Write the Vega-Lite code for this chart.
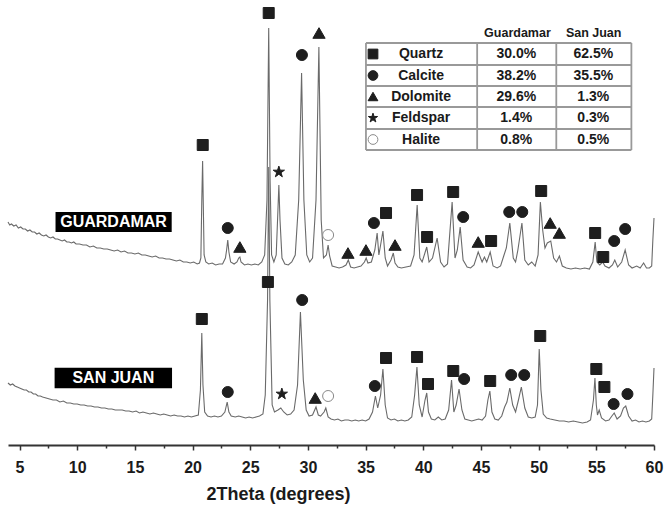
{
"$schema": "https://vega.github.io/schema/vega-lite/v6.json",
"width": 646, "height": 440,
"autosize": {"type": "none"},
"padding": {"left": 8, "top": 5, "right": 13, "bottom": 60},
"background": "white",
"config": {"view": {"stroke": null}, "font": "Liberation Sans"},
"datasets": {
"trace": [
{"s":"G","x":4.0,"c":223},{"s":"G","x":4.15,"c":220},{"s":"G","x":4.3,"c":221},{"s":"G","x":4.5,"c":219},{"s":"G","x":4.7,"c":220},{"s":"G","x":4.9,"c":217},{"s":"G","x":5.1,"c":218},{"s":"G","x":5.3,"c":216},{"s":"G","x":5.5,"c":216},{"s":"G","x":5.7,"c":214},{"s":"G","x":5.9,"c":215},{"s":"G","x":6.1,"c":213},{"s":"G","x":6.3,"c":213},{"s":"G","x":6.5,"c":211},{"s":"G","x":6.7,"c":212},{"s":"G","x":6.9,"c":210},{"s":"G","x":7.1,"c":209},{"s":"G","x":7.3,"c":210},{"s":"G","x":7.5,"c":208},{"s":"G","x":7.7,"c":207},{"s":"G","x":7.9,"c":208},{"s":"G","x":8.1,"c":206},{"s":"G","x":8.3,"c":206},{"s":"G","x":8.5,"c":205},{"s":"G","x":8.7,"c":204},{"s":"G","x":8.9,"c":205},{"s":"G","x":9.1,"c":203},{"s":"G","x":9.3,"c":203},{"s":"G","x":9.5,"c":202},{"s":"G","x":9.7,"c":203},{"s":"G","x":9.9,"c":201},{"s":"G","x":10.2,"c":201},{"s":"G","x":10.5,"c":200},{"s":"G","x":10.8,"c":200},{"s":"G","x":11.1,"c":198},{"s":"G","x":11.4,"c":199},{"s":"G","x":11.7,"c":197},{"s":"G","x":12.0,"c":197},{"s":"G","x":12.3,"c":196},{"s":"G","x":12.6,"c":196},{"s":"G","x":12.9,"c":195},{"s":"G","x":13.2,"c":194},{"s":"G","x":13.5,"c":195},{"s":"G","x":13.8,"c":193},{"s":"G","x":14.1,"c":194},{"s":"G","x":14.4,"c":192},{"s":"G","x":14.7,"c":192},{"s":"G","x":15.0,"c":191},{"s":"G","x":15.3,"c":192},{"s":"G","x":15.6,"c":190},{"s":"G","x":15.9,"c":190},{"s":"G","x":16.2,"c":189},{"s":"G","x":16.5,"c":188},{"s":"G","x":16.8,"c":189},{"s":"G","x":17.1,"c":187},{"s":"G","x":17.4,"c":187},{"s":"G","x":17.7,"c":186},{"s":"G","x":18.0,"c":186},{"s":"G","x":18.3,"c":185},{"s":"G","x":18.6,"c":184},{"s":"G","x":18.9,"c":185},{"s":"G","x":19.2,"c":183},{"s":"G","x":19.5,"c":183},{"s":"G","x":19.8,"c":182},{"s":"G","x":20.1,"c":183},{"s":"G","x":20.4,"c":181},{"s":"G","x":20.6,"c":182},
{"s":"G","x":20.72,"c":187},{"s":"G","x":20.8,"c":245},{"s":"G","x":20.87,"c":284},{"s":"G","x":20.93,"c":240},{"s":"G","x":21.0,"c":190},{"s":"G","x":21.15,"c":183},{"s":"G","x":21.4,"c":181},{"s":"G","x":21.7,"c":182},{"s":"G","x":22.0,"c":180},{"s":"G","x":22.3,"c":181},{"s":"G","x":22.6,"c":181},{"s":"G","x":22.85,"c":187},{"s":"G","x":22.95,"c":195},{"s":"G","x":23.05,"c":205},{"s":"G","x":23.15,"c":193},{"s":"G","x":23.3,"c":183},{"s":"G","x":23.6,"c":181},{"s":"G","x":23.85,"c":183},{"s":"G","x":24.0,"c":187},{"s":"G","x":24.1,"c":188},{"s":"G","x":24.2,"c":183},{"s":"G","x":24.5,"c":180},{"s":"G","x":24.8,"c":181},{"s":"G","x":25.1,"c":180},{"s":"G","x":25.4,"c":181},{"s":"G","x":25.7,"c":180},{"s":"G","x":26.0,"c":183},{"s":"G","x":26.25,"c":190},{"s":"G","x":26.45,"c":245},{"s":"G","x":26.6,"c":417},{"s":"G","x":26.72,"c":265},{"s":"G","x":26.85,"c":190},{"s":"G","x":27.05,"c":183},{"s":"G","x":27.25,"c":190},{"s":"G","x":27.4,"c":235},{"s":"G","x":27.48,"c":260},{"s":"G","x":27.58,"c":225},{"s":"G","x":27.75,"c":187},{"s":"G","x":28.0,"c":181},{"s":"G","x":28.3,"c":180},{"s":"G","x":28.6,"c":183},{"s":"G","x":28.9,"c":190},{"s":"G","x":29.2,"c":245},{"s":"G","x":29.45,"c":372},{"s":"G","x":29.65,"c":245},{"s":"G","x":29.9,"c":190},{"s":"G","x":30.15,"c":183},{"s":"G","x":30.4,"c":187},{"s":"G","x":30.7,"c":245},{"s":"G","x":30.95,"c":398},{"s":"G","x":31.15,"c":225},{"s":"G","x":31.35,"c":187},{"s":"G","x":31.6,"c":190},{"s":"G","x":31.75,"c":200},{"s":"G","x":31.88,"c":189},{"s":"G","x":32.1,"c":179},{"s":"G","x":32.4,"c":178},{"s":"G","x":32.7,"c":177},{"s":"G","x":33.0,"c":178},{"s":"G","x":33.3,"c":180},{"s":"G","x":33.5,"c":185},{"s":"G","x":33.7,"c":178},{"s":"G","x":34.0,"c":177},{"s":"G","x":34.3,"c":178},{"s":"G","x":34.6,"c":179},{"s":"G","x":34.9,"c":183},{"s":"G","x":35.05,"c":187},{"s":"G","x":35.2,"c":182},{"s":"G","x":35.5,"c":183},{"s":"G","x":35.8,"c":195},{"s":"G","x":36.0,"c":212},{"s":"G","x":36.15,"c":190},{"s":"G","x":36.3,"c":200},{"s":"G","x":36.5,"c":214},{"s":"G","x":36.7,"c":187},{"s":"G","x":36.9,"c":179},{"s":"G","x":37.2,"c":185},{"s":"G","x":37.4,"c":192},{"s":"G","x":37.55,"c":182},{"s":"G","x":37.8,"c":178},{"s":"G","x":38.1,"c":177},{"s":"G","x":38.5,"c":178},{"s":"G","x":38.9,"c":179},{"s":"G","x":39.2,"c":190},{"s":"G","x":39.47,"c":240},{"s":"G","x":39.7,"c":187},{"s":"G","x":39.9,"c":183},{"s":"G","x":40.3,"c":198},{"s":"G","x":40.5,"c":183},{"s":"G","x":40.8,"c":187},{"s":"G","x":41.2,"c":207},{"s":"G","x":41.5,"c":183},{"s":"G","x":41.8,"c":178},{"s":"G","x":42.1,"c":181},{"s":"G","x":42.5,"c":243},{"s":"G","x":42.75,"c":187},{"s":"G","x":42.95,"c":195},{"s":"G","x":43.2,"c":218},{"s":"G","x":43.45,"c":185},{"s":"G","x":43.8,"c":178},{"s":"G","x":44.1,"c":177},{"s":"G","x":44.4,"c":180},{"s":"G","x":44.76,"c":193},{"s":"G","x":45.1,"c":183},{"s":"G","x":45.3,"c":188},{"s":"G","x":45.5,"c":183},{"s":"G","x":45.8,"c":193},{"s":"G","x":46.05,"c":179},{"s":"G","x":46.4,"c":177},{"s":"G","x":46.7,"c":179},{"s":"G","x":47.0,"c":190},{"s":"G","x":47.2,"c":197},{"s":"G","x":47.5,"c":222},{"s":"G","x":47.8,"c":187},{"s":"G","x":48.0,"c":183},{"s":"G","x":48.2,"c":195},{"s":"G","x":48.55,"c":222},{"s":"G","x":48.8,"c":185},{"s":"G","x":49.1,"c":180},{"s":"G","x":49.4,"c":183},{"s":"G","x":49.7,"c":179},{"s":"G","x":49.95,"c":190},{"s":"G","x":50.15,"c":243},{"s":"G","x":50.35,"c":215},{"s":"G","x":50.55,"c":197},{"s":"G","x":50.75,"c":202},{"s":"G","x":51.05,"c":204},{"s":"G","x":51.3,"c":187},{"s":"G","x":51.55,"c":183},{"s":"G","x":51.8,"c":189},{"s":"G","x":52.05,"c":179},{"s":"G","x":52.4,"c":177},{"s":"G","x":52.8,"c":176},{"s":"G","x":53.2,"c":177},{"s":"G","x":53.6,"c":176},{"s":"G","x":54.0,"c":177},{"s":"G","x":54.4,"c":176},{"s":"G","x":54.7,"c":183},{"s":"G","x":54.9,"c":203},{"s":"G","x":55.05,"c":183},{"s":"G","x":55.3,"c":180},{"s":"G","x":55.55,"c":183},{"s":"G","x":55.75,"c":179},{"s":"G","x":56.1,"c":177},{"s":"G","x":56.4,"c":180},{"s":"G","x":56.6,"c":185},{"s":"G","x":56.85,"c":178},{"s":"G","x":57.2,"c":183},{"s":"G","x":57.5,"c":195},{"s":"G","x":57.8,"c":180},{"s":"G","x":58.1,"c":177},{"s":"G","x":58.5,"c":179},{"s":"G","x":58.8,"c":177},{"s":"G","x":59.1,"c":182},{"s":"G","x":59.35,"c":177},{"s":"G","x":59.6,"c":177},{"s":"G","x":59.8,"c":179},{"s":"G","x":59.9,"c":205},{"s":"G","x":60.0,"c":227},
{"s":"S","x":4.0,"c":62},{"s":"S","x":4.2,"c":60},{"s":"S","x":4.4,"c":61},{"s":"S","x":4.6,"c":59},{"s":"S","x":4.8,"c":58},{"s":"S","x":5.0,"c":57},{"s":"S","x":5.2,"c":56},{"s":"S","x":5.4,"c":55},{"s":"S","x":5.6,"c":55},{"s":"S","x":5.8,"c":53},{"s":"S","x":6.0,"c":53},{"s":"S","x":6.2,"c":51},{"s":"S","x":6.4,"c":51},{"s":"S","x":6.6,"c":49},{"s":"S","x":6.8,"c":49},{"s":"S","x":7.0,"c":48},{"s":"S","x":7.3,"c":47},{"s":"S","x":7.6,"c":46},{"s":"S","x":7.9,"c":45},{"s":"S","x":8.2,"c":45},{"s":"S","x":8.5,"c":43},{"s":"S","x":8.8,"c":44},{"s":"S","x":9.1,"c":42},{"s":"S","x":9.4,"c":42},{"s":"S","x":9.7,"c":41},{"s":"S","x":10.0,"c":41},{"s":"S","x":10.3,"c":40},{"s":"S","x":10.6,"c":40},{"s":"S","x":10.9,"c":39},{"s":"S","x":11.2,"c":39},{"s":"S","x":11.5,"c":38},{"s":"S","x":11.8,"c":38},{"s":"S","x":12.1,"c":37},{"s":"S","x":12.4,"c":37},{"s":"S","x":12.7,"c":36},{"s":"S","x":13.0,"c":36},{"s":"S","x":13.3,"c":35},{"s":"S","x":13.6,"c":35},{"s":"S","x":13.9,"c":35},{"s":"S","x":14.2,"c":34},{"s":"S","x":14.5,"c":34},{"s":"S","x":14.8,"c":33},{"s":"S","x":15.1,"c":34},{"s":"S","x":15.4,"c":32},{"s":"S","x":15.7,"c":33},{"s":"S","x":16.0,"c":32},{"s":"S","x":16.3,"c":31},{"s":"S","x":16.6,"c":32},{"s":"S","x":16.9,"c":31},{"s":"S","x":17.2,"c":30},{"s":"S","x":17.5,"c":31},{"s":"S","x":17.8,"c":30},{"s":"S","x":18.1,"c":29},{"s":"S","x":18.4,"c":30},{"s":"S","x":18.7,"c":29},{"s":"S","x":19.0,"c":29},{"s":"S","x":19.3,"c":28},{"s":"S","x":19.6,"c":29},{"s":"S","x":19.9,"c":28},{"s":"S","x":20.2,"c":29},{"s":"S","x":20.5,"c":30},
{"s":"S","x":20.68,"c":55},{"s":"S","x":20.8,"c":112},{"s":"S","x":20.9,"c":60},{"s":"S","x":21.05,"c":33},{"s":"S","x":21.3,"c":29},{"s":"S","x":21.6,"c":28},{"s":"S","x":21.9,"c":29},{"s":"S","x":22.2,"c":28},{"s":"S","x":22.5,"c":29},{"s":"S","x":22.8,"c":33},{"s":"S","x":23.0,"c":43},{"s":"S","x":23.15,"c":33},{"s":"S","x":23.35,"c":29},{"s":"S","x":23.7,"c":28},{"s":"S","x":24.0,"c":29},{"s":"S","x":24.3,"c":28},{"s":"S","x":24.6,"c":27},{"s":"S","x":24.9,"c":28},{"s":"S","x":25.2,"c":27},{"s":"S","x":25.5,"c":28},{"s":"S","x":25.8,"c":29},{"s":"S","x":26.1,"c":31},{"s":"S","x":26.3,"c":50},{"s":"S","x":26.5,"c":145},{"s":"S","x":26.6,"c":278},{"s":"S","x":26.7,"c":145},{"s":"S","x":26.9,"c":40},{"s":"S","x":27.1,"c":33},{"s":"S","x":27.4,"c":35},{"s":"S","x":27.65,"c":37},{"s":"S","x":27.9,"c":33},{"s":"S","x":28.2,"c":30},{"s":"S","x":28.5,"c":31},{"s":"S","x":28.8,"c":35},{"s":"S","x":29.1,"c":60},{"s":"S","x":29.35,"c":133},{"s":"S","x":29.6,"c":65},{"s":"S","x":29.85,"c":35},{"s":"S","x":30.1,"c":29},{"s":"S","x":30.4,"c":30},{"s":"S","x":30.7,"c":38},{"s":"S","x":30.9,"c":30},{"s":"S","x":31.1,"c":29},{"s":"S","x":31.4,"c":33},{"s":"S","x":31.55,"c":37},{"s":"S","x":31.75,"c":28},{"s":"S","x":32.0,"c":26},{"s":"S","x":32.3,"c":25},{"s":"S","x":32.6,"c":26},{"s":"S","x":32.9,"c":24},{"s":"S","x":33.2,"c":25},{"s":"S","x":33.5,"c":25},{"s":"S","x":33.8,"c":24},{"s":"S","x":34.1,"c":25},{"s":"S","x":34.4,"c":24},{"s":"S","x":34.7,"c":25},{"s":"S","x":35.0,"c":24},{"s":"S","x":35.3,"c":26},{"s":"S","x":35.6,"c":33},{"s":"S","x":35.85,"c":49},{"s":"S","x":36.05,"c":37},{"s":"S","x":36.3,"c":50},{"s":"S","x":36.5,"c":76},{"s":"S","x":36.7,"c":40},{"s":"S","x":36.9,"c":27},{"s":"S","x":37.2,"c":25},{"s":"S","x":37.5,"c":26},{"s":"S","x":37.8,"c":24},{"s":"S","x":38.1,"c":25},{"s":"S","x":38.4,"c":24},{"s":"S","x":38.7,"c":25},{"s":"S","x":39.0,"c":28},{"s":"S","x":39.25,"c":50},{"s":"S","x":39.45,"c":78},{"s":"S","x":39.65,"c":40},{"s":"S","x":39.9,"c":28},{"s":"S","x":40.15,"c":45},{"s":"S","x":40.3,"c":52},{"s":"S","x":40.45,"c":33},{"s":"S","x":40.7,"c":26},{"s":"S","x":41.0,"c":25},{"s":"S","x":41.3,"c":28},{"s":"S","x":41.6,"c":25},{"s":"S","x":41.9,"c":26},{"s":"S","x":42.2,"c":35},{"s":"S","x":42.45,"c":65},{"s":"S","x":42.65,"c":33},{"s":"S","x":42.85,"c":40},{"s":"S","x":43.1,"c":56},{"s":"S","x":43.35,"c":35},{"s":"S","x":43.6,"c":26},{"s":"S","x":43.9,"c":25},{"s":"S","x":44.2,"c":24},{"s":"S","x":44.5,"c":25},{"s":"S","x":44.8,"c":26},{"s":"S","x":45.1,"c":25},{"s":"S","x":45.4,"c":29},{"s":"S","x":45.6,"c":45},{"s":"S","x":45.77,"c":54},{"s":"S","x":45.95,"c":33},{"s":"S","x":46.2,"c":26},{"s":"S","x":46.5,"c":25},{"s":"S","x":46.8,"c":29},{"s":"S","x":47.05,"c":38},{"s":"S","x":47.25,"c":43},{"s":"S","x":47.5,"c":57},{"s":"S","x":47.75,"c":40},{"s":"S","x":48.0,"c":33},{"s":"S","x":48.25,"c":45},{"s":"S","x":48.5,"c":58},{"s":"S","x":48.8,"c":37},{"s":"S","x":49.1,"c":28},{"s":"S","x":49.4,"c":27},{"s":"S","x":49.7,"c":28},{"s":"S","x":49.9,"c":40},{"s":"S","x":50.05,"c":96},{"s":"S","x":50.2,"c":55},{"s":"S","x":50.4,"c":31},{"s":"S","x":50.7,"c":27},{"s":"S","x":51.0,"c":26},{"s":"S","x":51.4,"c":25},{"s":"S","x":51.8,"c":24},{"s":"S","x":52.2,"c":24},{"s":"S","x":52.6,"c":23},{"s":"S","x":53.0,"c":24},{"s":"S","x":53.4,"c":23},{"s":"S","x":53.8,"c":22},{"s":"S","x":54.2,"c":23},{"s":"S","x":54.5,"c":25},{"s":"S","x":54.75,"c":45},{"s":"S","x":54.88,"c":67},{"s":"S","x":55.0,"c":40},{"s":"S","x":55.1,"c":30},{"s":"S","x":55.25,"c":35},{"s":"S","x":55.45,"c":27},{"s":"S","x":55.8,"c":24},{"s":"S","x":56.1,"c":25},{"s":"S","x":56.35,"c":29},{"s":"S","x":56.55,"c":32},{"s":"S","x":56.8,"c":26},{"s":"S","x":57.1,"c":29},{"s":"S","x":57.35,"c":37},{"s":"S","x":57.55,"c":39},{"s":"S","x":57.8,"c":29},{"s":"S","x":58.1,"c":24},{"s":"S","x":58.4,"c":25},{"s":"S","x":58.7,"c":23},{"s":"S","x":59.0,"c":24},{"s":"S","x":59.3,"c":23},{"s":"S","x":59.6,"c":24},{"s":"S","x":59.8,"c":26},{"s":"S","x":59.9,"c":50},{"s":"S","x":60.0,"c":77}
],
"markers": [
{"x":20.88,"c":300,"p":"Quartz"},{"x":23.05,"c":217,"p":"Calcite"},{"x":24.1,"c":198,"p":"Dolomite"},{"x":26.6,"c":432,"p":"Quartz"},{"x":27.48,"c":273,"p":"Feldspar"},{"x":29.48,"c":390,"p":"Calcite"},{"x":30.96,"c":412,"p":"Dolomite"},{"x":31.75,"c":210,"p":"Halite"},{"x":33.47,"c":192,"p":"Dolomite"},{"x":35.03,"c":195,"p":"Dolomite"},{"x":35.72,"c":222,"p":"Calcite"},{"x":36.77,"c":232,"p":"Quartz"},{"x":37.55,"c":200,"p":"Dolomite"},{"x":39.46,"c":250,"p":"Quartz"},{"x":40.33,"c":208,"p":"Quartz"},{"x":42.59,"c":253,"p":"Quartz"},{"x":43.46,"c":228,"p":"Calcite"},{"x":44.76,"c":203,"p":"Dolomite"},{"x":45.88,"c":204,"p":"Quartz"},{"x":47.45,"c":233,"p":"Calcite"},{"x":48.58,"c":233,"p":"Calcite"},{"x":50.22,"c":254,"p":"Quartz"},{"x":51.0,"c":222,"p":"Dolomite"},{"x":51.79,"c":212,"p":"Dolomite"},{"x":54.9,"c":212,"p":"Quartz"},{"x":55.6,"c":188,"p":"Quartz"},{"x":56.55,"c":204,"p":"Calcite"},{"x":57.5,"c":216,"p":"Calcite"},
{"x":20.8,"c":126,"p":"Quartz"},{"x":23.05,"c":53,"p":"Calcite"},{"x":26.53,"c":163,"p":"Quartz"},{"x":27.74,"c":51,"p":"Feldspar"},{"x":29.5,"c":145,"p":"Calcite"},{"x":30.63,"c":47,"p":"Dolomite"},{"x":31.75,"c":49,"p":"Halite"},{"x":35.8,"c":59,"p":"Calcite"},{"x":36.77,"c":87,"p":"Quartz"},{"x":39.46,"c":88,"p":"Quartz"},{"x":40.41,"c":61,"p":"Quartz"},{"x":42.6,"c":74,"p":"Quartz"},{"x":43.54,"c":66,"p":"Calcite"},{"x":45.8,"c":64,"p":"Quartz"},{"x":47.62,"c":70,"p":"Calcite"},{"x":48.75,"c":70,"p":"Calcite"},{"x":50.14,"c":109,"p":"Quartz"},{"x":55.0,"c":76,"p":"Quartz"},{"x":55.7,"c":58,"p":"Quartz"},{"x":56.5,"c":41,"p":"Calcite"},{"x":57.7,"c":51,"p":"Calcite"}
],
"tsym": [
{"x":35.64,"c":391,"p":"Quartz"},{"x":35.64,"c":369.5,"p":"Calcite"},{"x":35.64,"c":348.5,"p":"Dolomite"},{"x":35.64,"c":327,"p":"Feldspar"},{"x":35.64,"c":305.5,"p":"Halite"}
],
"boxes": [
{"x":8.12,"x2":18.19,"c":213,"c2":233},
{"x":8.04,"x2":18.22,"c":56.7,"c2":77.3}
],
"boxlabels": [
{"x":13.15,"c":223,"t":"GUARDAMAR"},
{"x":13.13,"c":67,"t":"SAN JUAN"}
],
"rules": [
{"x":35.03,"x2":58.04,"c":402,"c2":402},{"x":35.03,"x2":58.04,"c":380,"c2":380},{"x":35.03,"x2":58.04,"c":359,"c2":359},{"x":35.03,"x2":58.04,"c":338,"c2":338},{"x":35.03,"x2":58.04,"c":316,"c2":316},{"x":35.03,"x2":58.04,"c":295,"c2":295},
{"x":35.03,"x2":35.03,"c":402,"c2":295},{"x":44.67,"x2":44.67,"c":402,"c2":295},{"x":51.53,"x2":51.53,"c":402,"c2":295},{"x":58.04,"x2":58.04,"c":402,"c2":295}
],
"header": [
{"x":48.16,"c":412,"t":"Guardamar"},{"x":54.77,"c":412,"t":"San Juan"}
],
"cells": [
{"x":39.81,"c":391,"t":"Quartz"},{"x":48.06,"c":391,"t":"30.0%"},{"x":54.74,"c":391,"t":"62.5%"},
{"x":39.81,"c":369.5,"t":"Calcite"},{"x":48.06,"c":369.5,"t":"38.2%"},{"x":54.74,"c":369.5,"t":"35.5%"},
{"x":39.81,"c":348.5,"t":"Dolomite"},{"x":48.06,"c":348.5,"t":"29.6%"},{"x":54.74,"c":348.5,"t":"1.3%"},
{"x":39.81,"c":327,"t":"Feldspar"},{"x":48.06,"c":327,"t":"1.4%"},{"x":54.74,"c":327,"t":"0.3%"},
{"x":39.81,"c":305.5,"t":"Halite"},{"x":48.06,"c":305.5,"t":"0.8%"},{"x":54.74,"c":305.5,"t":"0.5%"}
]
},
"encoding": {
"x": {"field": "x", "type": "quantitative",
 "scale": {"domain": [4, 60], "nice": false, "zero": false},
 "axis": {"values": [5,7.5,10,12.5,15,17.5,20,22.5,25,27.5,30,32.5,35,37.5,40,42.5,45,47.5,50,52.5,55,57.5,60],
  "labelExpr": "datum.value % 5 === 0 ? format(datum.value, 'd') : ''",
  "title": "2Theta (degrees)", "grid": false,
  "domainColor": "#333333", "domainWidth": 2,
  "tickColor": "#333333", "tickWidth": 1.5,
  "tickSize": {"condition": {"test": "datum.value % 5 === 0", "value": 5}, "value": 3},
  "labelFont": "Liberation Sans", "labelFontSize": 16, "labelFontWeight": "bold", "labelColor": "#1a1a1a",
  "labelPadding": 9, "labelFlush": false, "labelOverlap": false,
  "titleFont": "Liberation Sans", "titleFontSize": 18, "titleFontWeight": "bold", "titleColor": "#1a1a1a",
  "titleX": 270, "titleY": 54, "titleBaseline": "alphabetic", "titleAlign": "center"}},
"y": {"field": "c", "type": "quantitative", "scale": {"domain": [0, 440], "nice": false, "zero": false}, "axis": null}
},
"layer": [
{"data": {"name": "trace"}, "mark": {"type": "line", "color": "#6a6a6a", "strokeWidth": 1.1}, "encoding": {"detail": {"field": "s", "type": "nominal"}}},
{"data": {"name": "boxes"}, "mark": {"type": "rect", "color": "#000000"}, "encoding": {"x2": {"field": "x2"}, "y2": {"field": "c2"}}},
{"data": {"name": "boxlabels"}, "mark": {"type": "text", "color": "#ffffff", "font": "Liberation Sans", "fontWeight": "bold", "fontSize": 16, "align": "center", "baseline": "middle"}, "encoding": {"text": {"field": "t"}}},
{"data": {"name": "rules"}, "mark": {"type": "rule", "color": "#999999", "strokeWidth": 1.8}, "encoding": {"x2": {"field": "x2"}, "y2": {"field": "c2"}}},
{"data": {"name": "header"}, "mark": {"type": "text", "color": "#1a1a1a", "font": "Liberation Sans", "fontWeight": "bold", "fontSize": 12.5, "align": "center", "baseline": "middle"}, "encoding": {"text": {"field": "t"}}},
{"data": {"name": "cells"}, "mark": {"type": "text", "color": "#1a1a1a", "font": "Liberation Sans", "fontWeight": "bold", "fontSize": 14, "align": "center", "baseline": "middle"}, "encoding": {"text": {"field": "t"}}},
{"data": {"name": "markers"}, "mark": {"type": "point", "filled": true, "opacity": 1, "strokeWidth": 1},
 "encoding": {
  "shape": {"field": "p", "type": "nominal", "scale": {"domain": ["Quartz","Calcite","Dolomite","Feldspar","Halite"], "range": ["square","circle","triangle-up","M0,-1L0.225,-0.309L0.951,-0.309L0.363,0.118L0.588,0.809L0,0.382L-0.588,0.809L-0.363,0.118L-0.951,-0.309L-0.225,-0.309Z","circle"]}, "legend": null},
  "fill": {"field": "p", "type": "nominal", "scale": {"domain": ["Quartz","Calcite","Dolomite","Feldspar","Halite"], "range": ["#1e1e1e","#1e1e1e","#1e1e1e","#1e1e1e","#ffffff"]}, "legend": null},
  "stroke": {"field": "p", "type": "nominal", "scale": {"domain": ["Quartz","Calcite","Dolomite","Feldspar","Halite"], "range": ["#1e1e1e","#1e1e1e","#1e1e1e","#1e1e1e","#8a8a8a"]}, "legend": null},
  "size": {"field": "p", "type": "nominal", "scale": {"type": "ordinal", "domain": ["Quartz","Calcite","Dolomite","Feldspar","Halite"], "range": [121,121,150,140,121]}, "legend": null}
 }},
{"data": {"name": "tsym"}, "mark": {"type": "point", "filled": true, "opacity": 1, "strokeWidth": 1},
 "encoding": {
  "shape": {"field": "p", "type": "nominal", "legend": null},
  "fill": {"field": "p", "type": "nominal", "legend": null},
  "stroke": {"field": "p", "type": "nominal", "legend": null},
  "size": {"value": 95}
 }}
]
}
